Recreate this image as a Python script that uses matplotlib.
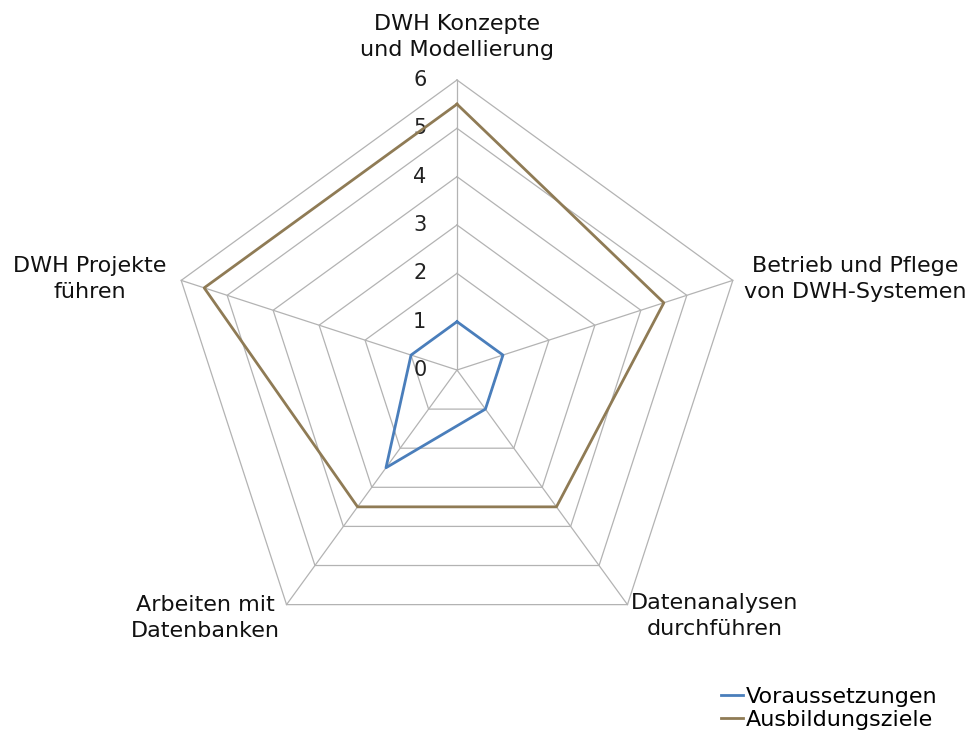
import numpy as np
import matplotlib.pyplot as plt
from matplotlib.lines import Line2D

categories = ["DWH Konzepte\nund Modellierung", "Betrieb und Pflege\nvon DWH-Systemen",
              "Datenanalysen\ndurchführen", "Arbeiten mit\nDatenbanken", "DWH Projekte\nführen"]
voraussetzungen = [1, 1, 1, 2.5, 1]
ausbildungsziele = [5.5, 4.5, 3.5, 3.5, 5.5]
levels = [0, 1, 2, 3, 4, 5, 6]

blue = "#4a7ebb"
brown = "#8f7b55"
grid = "#b3b3b3"

fig = plt.figure(figsize=(9.68, 7.36), dpi=100)
ax = fig.add_axes([0, 0, 1, 1])
ppu = 290 / 6.0  # pixel je Einheit
cx, cy = 457, 370
ax.set_xlim(-cx / ppu, (968 - cx) / ppu)
ax.set_ylim(-(736 - cy) / ppu, cy / ppu)
ax.axis("off")

n = len(categories)
theta = np.pi / 2 - 2 * np.pi * np.arange(n) / n
ct, st = np.cos(theta), np.sin(theta)

# Gitter
for r in levels[1:]:
    ax.plot(np.append(r * ct, r * ct[0]), np.append(r * st, r * st[0]), color=grid, lw=0.9, zorder=1)
rmax = levels[-1]
for i in range(n):
    ax.plot([0, rmax * ct[i]], [0, rmax * st[i]], color=grid, lw=0.9, zorder=1)

# Skala
for r in levels:
    ax.text(-0.77, r, str(r), ha="center", va="center", fontsize=15, color="#222222")

def poly(vals, col):
    v = np.array(vals)
    ax.plot(np.append(v * ct, v[0] * ct[0]), np.append(v * st, v[0] * st[0]), color=col, lw=2, zorder=3)

poly(voraussetzungen, blue)
poly(ausbildungsziele, brown)

# Achsenbeschriftungen (Pixelpositionen der Textmitte)
label_px = [(457, 37), (855, 279), (715, 616), (205, 618), (90, 279)]
for lab, (px, py) in zip(categories, label_px):
    ax.text((px - cx) / ppu, (cy - py) / ppu, lab, ha="center", va="center",
            fontsize=16, color="#111111", multialignment="center", linespacing=1.4)

handles = [Line2D([], [], color=blue, lw=2), Line2D([], [], color=brown, lw=2)]
fig.legend(handles, ["Voraussetzungen", "Ausbildungsziele"], loc="lower left",
           bbox_to_anchor=(710 / 968, -5 / 736), frameon=False, fontsize=16,
           handlelength=1.0, handletextpad=0.1, labelspacing=0.15, borderpad=0)

fig.savefig("out.png", dpi=100)
